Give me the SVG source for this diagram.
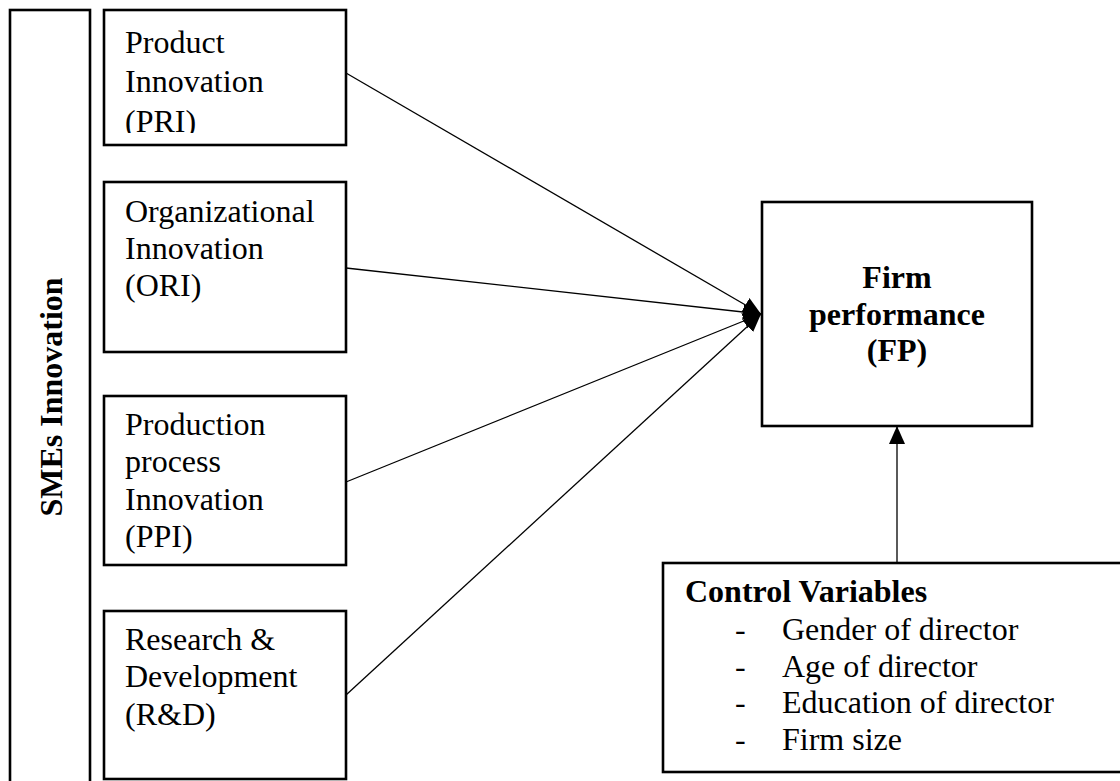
<svg xmlns="http://www.w3.org/2000/svg" width="1120" height="781" viewBox="0 0 1120 781">
<style>
.box{fill:#fff;stroke:#000;stroke-width:2.6}
.t{font-family:"Liberation Serif","Times New Roman",serif;font-size:32px;fill:#000}
.b{font-weight:bold}
.c{stroke:#000;stroke-width:1.3;fill:none}
</style>
<defs>
<marker id="ah" markerUnits="userSpaceOnUse" markerWidth="22" markerHeight="18" refX="18" refY="8" orient="auto">
<path d="M0,0 L18,8 L0,16 Z" fill="#000"/>
</marker>
<clipPath id="clipPRI"><rect x="104" y="10" width="242" height="123"/></clipPath>
</defs>
<rect width="1120" height="781" fill="#fff"/>
<g id="sme">
<rect class="box" x="10" y="10" width="80" height="790"/>
<text class="t b" font-size="32.5" transform="translate(62,397) rotate(-90)" text-anchor="middle">SMEs Innovation</text>
</g>
<g id="pri">
<rect class="box" x="104" y="10" width="242" height="135"/>
<g clip-path="url(#clipPRI)">
<text class="t" x="125" y="53">Product</text>
<text class="t" x="125" y="92">Innovation</text>
<text class="t" x="125" y="132">(PRI)</text>
</g>
</g>
<g id="ori">
<rect class="box" x="104" y="182" width="242" height="170"/>
<text class="t" x="125" y="222">Organizational</text>
<text class="t" x="125" y="259">Innovation</text>
<text class="t" x="125" y="296">(ORI)</text>
</g>
<g id="ppi">
<rect class="box" x="104" y="396" width="242" height="169"/>
<text class="t" x="125" y="435">Production</text>
<text class="t" x="125" y="472">process</text>
<text class="t" x="125" y="510">Innovation</text>
<text class="t" x="125" y="547">(PPI)</text>
</g>
<g id="rd">
<rect class="box" x="104" y="611" width="242" height="168"/>
<text class="t" x="125" y="650">Research &amp;</text>
<text class="t" x="125" y="687">Development</text>
<text class="t" x="125" y="725">(R&amp;D)</text>
</g>
<g id="fp">
<rect class="box" x="762" y="202" width="270" height="224"/>
<text class="t b" x="897" y="288" text-anchor="middle">Firm</text>
<text class="t b" x="897" y="325" text-anchor="middle">performance</text>
<text class="t b" x="897" y="361" text-anchor="middle">(FP)</text>
</g>
<g id="control">
<rect class="box" x="663" y="563" width="480" height="209"/>
<text class="t b" x="685" y="602">Control Variables</text>
<text class="t" x="735" y="640">-</text>
<text class="t" x="782" y="640">Gender of director</text>
<text class="t" x="735" y="677">-</text>
<text class="t" x="782" y="677">Age of director</text>
<text class="t" x="735" y="713">-</text>
<text class="t" x="782" y="713">Education of director</text>
<text class="t" x="735" y="750">-</text>
<text class="t" x="782" y="750">Firm size</text>
</g>
<g id="connectors">
<line class="c" x1="346" y1="73" x2="761" y2="314" marker-end="url(#ah)"/>
<line class="c" x1="346" y1="268" x2="761" y2="314" marker-end="url(#ah)"/>
<line class="c" x1="346" y1="482" x2="761" y2="314" marker-end="url(#ah)"/>
<line class="c" x1="346" y1="695" x2="761" y2="314" marker-end="url(#ah)"/>
<line class="c" x1="897" y1="563" x2="897" y2="426" marker-end="url(#ah)"/>
</g>
</svg>
